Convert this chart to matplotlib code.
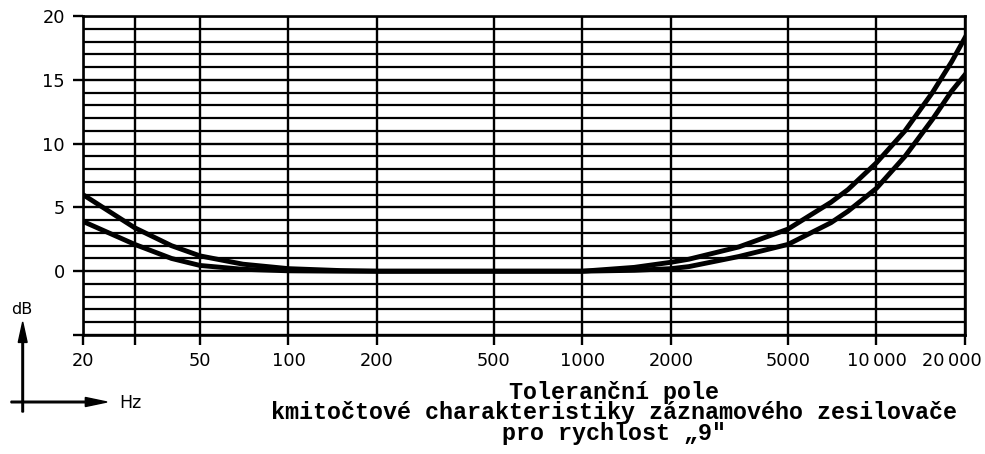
import matplotlib
matplotlib.use("Agg")
import matplotlib.pyplot as plt
import matplotlib.patches as mpatches
import matplotlib.transforms as mtransforms
from matplotlib.ticker import FixedLocator, MultipleLocator, NullFormatter

# ---- data ----
freq_hz = [20, 30, 40, 50, 70, 100, 150, 200, 500, 1000, 1500, 2000, 2300, 3400,
           5000, 7000, 8000, 10000, 12500, 15500, 18000, 20000]
upper_db = [6.0, 3.4, 2.0, 1.2, 0.55, 0.2, 0.05, 0.0, 0.0, 0.0, 0.3, 0.7, 0.94, 1.9,
            3.3, 5.4, 6.4, 8.5, 11.0, 14.0, 16.4, 18.3]
lower_db = [3.9, 2.1, 1.0, 0.45, 0.15, 0.03, 0.0, 0.0, 0.0, 0.0, 0.07, 0.2, 0.36, 1.15,
            2.1, 3.8, 4.7, 6.5, 9.0, 11.9, 14.1, 15.4]

x_grid = [20, 30, 50, 100, 200, 500, 1000, 2000, 5000, 10000, 20000]
x_labels = ["20", "", "50", "100", "200", "500", "1000", "2000", "5000", "10\u2009000", "20\u2009000"]
y_ticks = [-5, 0, 5, 10, 15, 20]
y_labels = ["", "0", "5", "10", "15", "20"]

title_lines = ["Toleranční pole",
               "kmitočtové charakteristiky záznamového zesilovače",
               "pro rychlost \u201e9\""]

fig = plt.figure(figsize=(9.85, 4.54), dpi=100)
ax = fig.add_axes([83/985, 1-335/454, (965-83)/985, (335-16)/454])

ax.set_xscale("log")
ax.set_xlim(20, 20000)
ax.set_ylim(-5, 20)

ax.xaxis.set_major_locator(FixedLocator(x_grid))
ax.xaxis.set_minor_locator(FixedLocator([]))
ax.xaxis.set_minor_formatter(NullFormatter())
ax.set_xticklabels(x_labels)

ax.yaxis.set_major_locator(FixedLocator(y_ticks))
ax.set_yticklabels(y_labels)
ax.yaxis.set_minor_locator(MultipleLocator(1))

ax.grid(True, which="major", axis="both", color="black", linewidth=1.7)
ax.grid(True, which="minor", axis="y", color="black", linewidth=1.6)
ax.set_axisbelow(True)

ax.tick_params(axis="both", which="major", direction="out", length=7, width=1.7,
               colors="black", labelsize=12.8)
ax.tick_params(axis="x", which="major", pad=5)
ax.tick_params(axis="y", which="major", pad=6)
ax.tick_params(axis="y", which="minor", length=0)
for lab in ax.get_xticklabels() + ax.get_yticklabels():
    lab.set_family("DejaVu Sans")

# last x label sits a bit left of its tick in the reference
last = ax.get_xticklabels()[-1]
last.set_transform(last.get_transform() +
                   mtransforms.ScaledTranslation(-13/100, 0, fig.dpi_scale_trans))

for sp in ax.spines.values():
    sp.set_linewidth(1.9)
    sp.set_color("black")

ax.plot(freq_hz, upper_db, color="black", linewidth=3.5, solid_joinstyle="round")
ax.plot(freq_hz, lower_db, color="black", linewidth=3.5, solid_joinstyle="round")

# dB / Hz orientation arrows
fig.patches.append(mpatches.FancyArrow(
    22.7/985, 1-412/454, 0, (412-322)/454, width=0.0016, head_width=0.009,
    head_length=0.045, length_includes_head=True, color="black",
    transform=fig.transFigure, figure=fig))
fig.patches.append(mpatches.FancyArrow(
    11/985, 1-402/454, (107-11)/985, 0, width=0.0035, head_width=0.02,
    head_length=0.022, length_includes_head=True, color="black",
    transform=fig.transFigure, figure=fig))
fig.text(22/985, 1-310/454, "dB", ha="center", va="center", fontsize=11.5,
         family="DejaVu Sans")
fig.text(130/985, 1-403/454, "Hz", ha="center", va="center", fontsize=12.5,
         family="DejaVu Sans")

fig.text(614/985, 1-413/454, "\n".join(title_lines), ha="center", va="center",
         multialignment="center", fontsize=16.8, linespacing=0.86,
         family=["Liberation Mono", "DejaVu Sans Mono"], fontweight="bold")

fig.savefig("out.png", dpi=100)
